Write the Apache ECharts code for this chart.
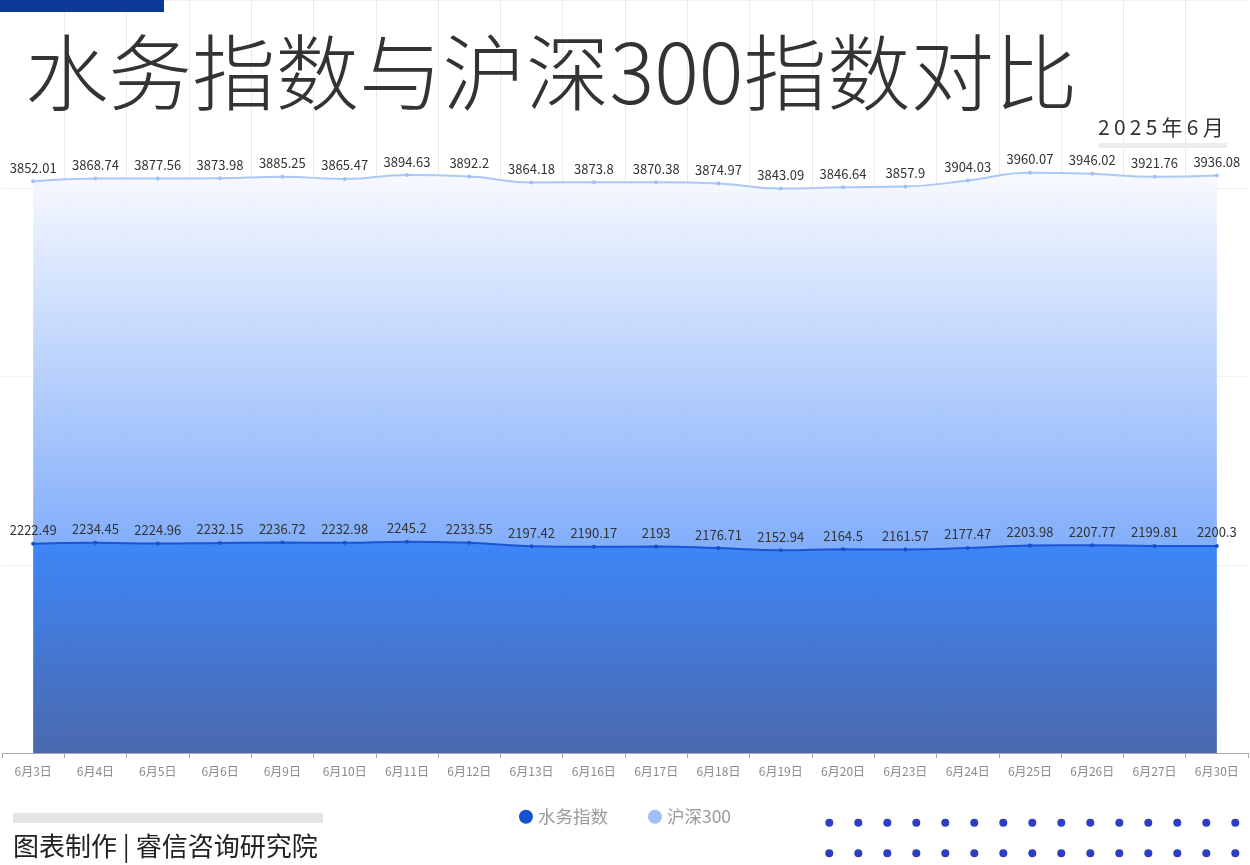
<!DOCTYPE html>
<html>
<head>
<meta charset="utf-8">
<script src="https://cdn.jsdelivr.net/npm/echarts@6/dist/echarts.min.js"></script>
<style>
html,body{margin:0;padding:0;background:#fff;}
#chart{width:1250px;height:865px;}
</style>
</head>
<body>
<div id="chart"></div>
<script>
var categories = ['6月3日','6月4日','6月5日','6月6日','6月9日','6月10日','6月11日','6月12日','6月13日','6月16日','6月17日','6月18日','6月19日','6月20日','6月23日','6月24日','6月25日','6月26日','6月27日','6月30日'];
var waterIndex = [2222.49,2234.45,2224.96,2232.15,2236.72,2232.98,2245.2,2233.55,2197.42,2190.17,2193,2176.71,2152.94,2164.5,2161.57,2177.47,2203.98,2207.77,2199.81,2200.3];
var csi300 = [3852.01,3868.74,3877.56,3873.98,3885.25,3865.47,3894.63,3892.2,3864.18,3873.8,3870.38,3874.97,3843.09,3846.64,3857.9,3904.03,3960.07,3946.02,3921.76,3936.08];
var seriesNames = ['水务指数','沪深300'];
var titleText = '水务指数与沪深300指数对比';
var dateText = '2025年6月';
var footerText = '图表制作 | 睿信咨询研究院';

var FONT = '"Noto Sans CJK SC","Noto Sans",sans-serif';
var chart = echarts.init(document.getElementById('chart'), null, {renderer:'canvas'});

var graphics = [
  {type:'rect', left:0, top:0, shape:{width:164,height:12}, style:{fill:'#0a3a96'}, z:10},
  {type:'text', left:25, top:31, style:{text:titleText, font:'300 83.5px '+FONT, fill:'#333333'}, z:10},
  {type:'rect', left:1098, top:143, shape:{width:129,height:5}, style:{fill:'#ececec'}, z:10},
  {type:'rect', left:13, top:813, shape:{width:310,height:10}, style:{fill:'#e4e4e4'}, z:10},
  {type:'text', left:13, top:833, style:{text:footerText, font:'26px '+FONT, fill:'#222222'}, z:10}
];
// date text with letter spacing
var dx = 1098;
var dateChars = dateText.split('');
dateChars.forEach(function(ch){
  graphics.push({type:'text', left:dx, top:117, style:{text:ch, font:'21px '+FONT, fill:'#333333'}, z:10});
  var w = /[0-9]/.test(ch) ? 11.7 : 21;
  dx += w + 4.2;
});
// decorative dots
for (var r=0;r<2;r++){
  for (var c=0;c<15;c++){
    graphics.push({type:'circle', shape:{cx:829.3+c*29, cy:822.7+r*30.6, r:4}, style:{fill:'#2c3fc4'}, z:10});
  }
}

var option = {
  backgroundColor:'#ffffff',
  animation:false,
  textStyle:{fontFamily:FONT},
  grid:{left:2,right:2,top:0,bottom:112,containLabel:false},
  legend:{
    data:seriesNames, left:'center', top:803, icon:'circle', itemWidth:14, itemHeight:14, itemGap:40,
    textStyle:{color:'#9a9a9a', fontSize:17.5, fontFamily:FONT}
  },
  xAxis:{
    type:'category', data:categories, boundaryGap:true,
    axisLine:{lineStyle:{color:'#a8a8a8'}},
    axisTick:{show:true, length:5, lineStyle:{color:'#a8a8a8'}},
    axisLabel:{color:'#8a8a8a', fontSize:12, margin:12, interval:0, fontFamily:FONT},
    splitLine:{show:true, showMinLine:false, showMaxLine:false, lineStyle:{color:'#ebebeb'}}
  },
  yAxis:{
    type:'value', min:0, max:8000, interval:2000,
    axisLabel:{show:false}, axisLine:{show:false}, axisTick:{show:false},
    splitLine:{show:true, lineStyle:{color:'#f0f0f0'}}
  },
  series:[
    {
      name:seriesNames[0], type:'line', stack:'total', data:waterIndex, smooth:true,
      symbol:'circle', symbolSize:4,
      itemStyle:{color:'#1450cf'},
      lineStyle:{color:'#1c55d2', width:2},
      areaStyle:{opacity:0.92, color:new echarts.graphic.LinearGradient(0,0,0,1,[{offset:0,color:'#2d7cf8'},{offset:1,color:'#3a5ca6'}])},
      label:{show:true, position:'top', distance:5, color:'#333333', fontSize:13, fontFamily:FONT}
    },
    {
      name:seriesNames[1], type:'line', stack:'total', data:csi300, smooth:true,
      symbol:'circle', symbolSize:4,
      itemStyle:{color:'#9ec0f6'},
      lineStyle:{color:'#abc8f6', width:2},
      areaStyle:{opacity:0.92, color:new echarts.graphic.LinearGradient(0,0,0,1,[{offset:0,color:'#f7f9ff'},{offset:1,color:'#76a6fa'}])},
      label:{show:true, position:'top', distance:5, color:'#333333', fontSize:13, fontFamily:FONT}
    }
  ],
  graphic:graphics
};
chart.setOption(option);
</script>
</body>
</html>
